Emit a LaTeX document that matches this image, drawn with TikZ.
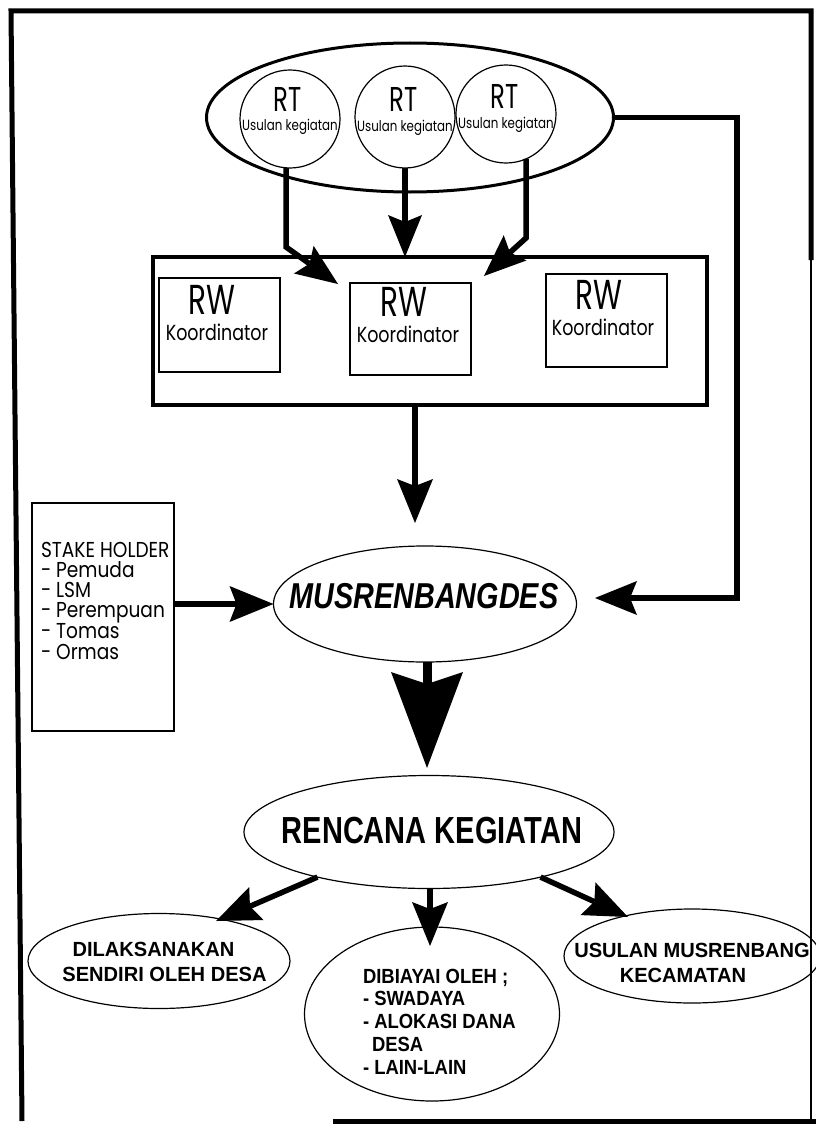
\documentclass[tikz,border=0pt]{standalone}
\usepackage{fontspec}
\setmainfont{Liberation Sans}
\newfontfamily\geo[FakeStretch=0.8]{Poppins}
\newfontfamily\geow[FakeStretch=0.86]{Poppins}
\newfontfamily\cond[FakeStretch=0.77]{Liberation Sans}
\newfontfamily\musf[FakeStretch=0.8]{Liberation Sans}
\newfontfamily\botf[FakeStretch=0.98]{Liberation Sans}
\newfontfamily\botm[FakeStretch=0.9]{Liberation Sans}
\newcommand{\tallr}[1]{\scalebox{1}[1.13]{#1}}
\usetikzlibrary{shapes.geometric,arrows.meta}
\begin{document}
\begin{tikzpicture}[x=1pt,y=-1pt,
  oval/.style={draw,ellipse,inner sep=0pt,outer sep=0pt,line width=1.2pt},
  boxs/.style={draw,rectangle,inner sep=0pt,outer sep=0pt,line width=1.2pt},
  lbl/.style={inner sep=0pt,outer sep=0pt,anchor=base},
  lblw/.style={inner sep=0pt,outer sep=0pt,anchor=base west},
  rtbig/.style={lbl,font=\geo\fontsize{30.5}{30}\selectfont},
  rtsmall/.style={lbl,font=\geo\fontsize{14.8}{15}\selectfont},
  rwbig/.style={lbl,font=\geo\fontsize{37}{37}\selectfont},
  rwsmall/.style={lbl,font=\geo\fontsize{21.8}{22}\selectfont},
  shtxt/.style={lblw,font=\geow\fontsize{21.6}{20}\selectfont},
  bottxt/.style={font=\botf\bfseries\fontsize{20.5}{20}\selectfont},
  botmid/.style={font=\botm\bfseries\fontsize{20.5}{20}\selectfont},
  flow/.style={line width=5.5pt,line join=miter},
  headA/.style={-{Stealth[length=42pt,width=34pt,inset=7pt,line width=0pt]}},
  headB/.style={-{Stealth[length=44pt,width=36pt,inset=7pt,line width=0pt]}},
  headC/.style={-{Stealth[length=96pt,width=72pt,inset=12pt,line width=0pt]}},
]
\useasboundingbox[fill=white] (0,0) rectangle (816,1124);
% frame
\draw[line width=5pt,line join=miter] (22,1121) -- (11,11) -- (811,11) -- (811,260);
\draw[line width=1.2pt] (811,260) -- (811,1121);
\draw[line width=5pt] (333,1121) -- (816,1121);

% RT group
\node[oval,line width=3pt,minimum width=407pt,minimum height=149pt] (rtgrp) at (410,117.5) {};
\node[oval,minimum width=100pt,minimum height=98pt] (rt1) at (290,119) {};
\node[oval,minimum width=100pt,minimum height=102pt] (rt2) at (405,117) {};
\node[oval,minimum width=100pt,minimum height=98pt] (rt3) at (506,114) {};
\node[rtbig] (rt1a) at (288,111) {\tallr{RT}};
\node[rtsmall] (rt1b) at (290,130) {Usulan kegiatan};
\node[rtbig] (rt2a) at (404,111) {\tallr{RT}};
\node[rtsmall] (rt2b) at (405,131) {Usulan kegiatan};
\node[rtbig] (rt3a) at (505,108) {\tallr{RT}};
\node[rtsmall] (rt3b) at (506,128) {Usulan kegiatan};

% RW group
\node[boxs,line width=4pt,minimum width=554pt,minimum height=148pt] (rwgrp) at (430,331) {};
\node[boxs,minimum width=121pt,minimum height=94pt] (rw1) at (219.5,325) {};
\node[boxs,minimum width=121pt,minimum height=92pt] (rw2) at (410.5,329) {};
\node[boxs,minimum width=121pt,minimum height=93pt] (rw3) at (606.5,320.5) {};
\node[rwbig] (rw1a) at (212,314) {\tallr{RW}};
\node[rwsmall] (rw1b) at (217,340) {Koordinator};
\node[rwbig] (rw2a) at (404,316) {\tallr{RW}};
\node[rwsmall] (rw2b) at (408,342) {Koordinator};
\node[rwbig] (rw3a) at (599,309) {\tallr{RW}};
\node[rwsmall] (rw3b) at (603,335) {Koordinator};

% stakeholder
\node[boxs,minimum width=142pt,minimum height=228pt] (shbox) at (103,617) {};
\node[shtxt] (sh1) at (41,557) {STAKE HOLDER};
\node[shtxt] (sh2) at (41,577) {- Pemuda};
\node[shtxt] (sh3) at (41,597) {- LSM};
\node[shtxt] (sh4) at (41,617) {- Perempuan};
\node[shtxt] (sh5) at (41,638) {- Tomas};
\node[shtxt] (sh6) at (41,659) {- Ormas};

% MUSRENBANGDES
\node[oval,minimum width=303pt,minimum height=116pt] (mus) at (425,604) {};
\node[lbl,font=\musf\bfseries\itshape\fontsize{36}{36}\selectfont] (mustxt) at (424,608) {MUSRENBANGDES};

% RENCANA KEGIATAN
\node[oval,minimum width=370pt,minimum height=113pt] (ren) at (429,832) {};
\node[lbl,font=\cond\bfseries\fontsize{37.7}{38}\selectfont] (rentxt) at (432,843) {RENCANA KEGIATAN};

% bottom ellipses
\node[oval,minimum width=262pt,minimum height=95pt] (bl) at (159,961) {};
\node[oval,minimum width=255pt,minimum height=174pt] (bm) at (432,1014) {};
\node[oval,minimum width=256pt,minimum height=94pt] (br) at (692,956) {};
\node[lbl,bottxt] (bl1) at (153.5,956) {DILAKSANAKAN};
\node[lbl,bottxt] (bl2) at (164.5,981) {SENDIRI OLEH DESA};
\node[lblw,botmid] (bm1) at (363,983) {DIBIAYAI OLEH ;};
\node[lblw,botmid] (bm2) at (363,1005) {- SWADAYA};
\node[lblw,botmid] (bm3) at (363,1028) {- ALOKASI DANA};
\node[lblw,botmid] (bm4) at (372,1051) {DESA};
\node[lblw,botmid] (bm5) at (363,1074) {- LAIN-LAIN};
\node[lbl,bottxt] (br1) at (692,957) {USULAN MUSRENBANG};
\node[lbl,bottxt] (br2) at (683,982) {KECAMATAN};

% connector points
\coordinate (k1) at (286,247);
\coordinate (t1) at (338,284);
\coordinate (t2) at (405,257);
\coordinate (k3) at (526,238);
\coordinate (t3) at (484,276);
\coordinate (r2) at (737,598);
\coordinate (r3) at (595,598);
\coordinate (m1) at (415,523);
\coordinate (m2) at (427,768);
\coordinate (b1) at (216,921);
\coordinate (b2) at (430,946);
\coordinate (b3) at (628,917);

% connectors
\draw[flow,headA] (rt1.south -| k1) -- (k1) -- (t1);
\draw[flow,headA] (rt2.south) -- (t2);
\draw[flow,headA] (rt3.-66) -- (k3) -- (t3);
\draw[flow,headA] (rtgrp.east) -- (rtgrp.east -| r2) -- (r2) -- (r3);
\draw[flow,headB] (rwgrp.south -| m1) -- (m1);
\draw[flow,headB] (shbox.east |- mus.west) -- (mus.west);
\draw[line width=9pt,headC] (mus.south -| m2) -- (m2);
\draw[flow,headB] (ren.202) -- (b1);
\draw[flow,headB] (ren.south -| b2) -- (b2);
\draw[flow,headB] (ren.338) -- (b3);
\end{tikzpicture}
\end{document}
